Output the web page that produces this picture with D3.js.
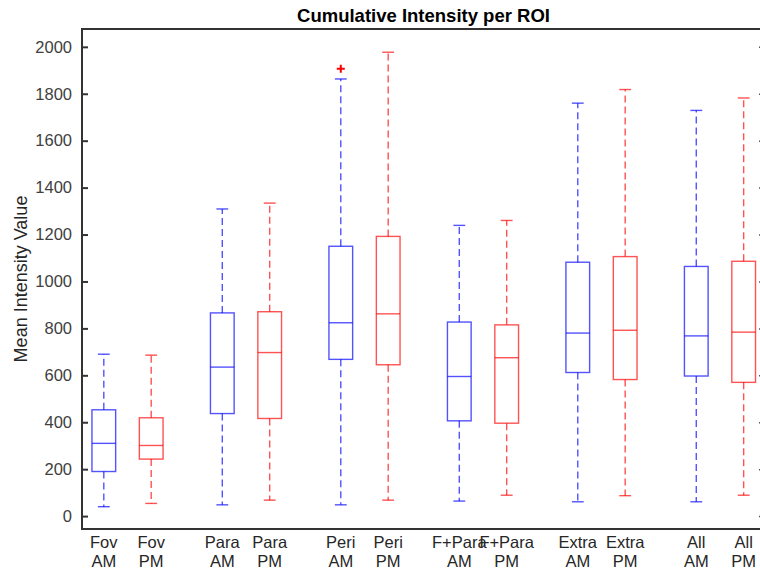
<!DOCTYPE html>
<html><head><meta charset="utf-8">
<script src="https://cdn.jsdelivr.net/npm/d3@7"></script>
<style>body{margin:0;background:#fff;}svg{display:block;font-family:"Liberation Sans",Arial,sans-serif;}</style>
</head><body><svg id="c" width="760" height="570"></svg>
<script>
const categories = ["Fov","Fov","Para","Para","Peri","Peri","F+Para","F+Para","Extra","Extra","All","All"];
const sessions = ["AM","PM","AM","PM","AM","PM","AM","PM","AM","PM","AM","PM"];
const positions = [1,2,3.5,4.5,6,7,8.5,9.5,11,12,13.5,14.5];
const whiskerLow = [40,54,48,68,48,68,64,89,61,87,61,89];
const q1 = [190,243,437,416,668,645,406,396,612,582,597,570];
const median = [310,301,635,697,824,862,595,675,780,792,768,784];
const q3 = [453,419,866,871,1150,1192,827,815,1082,1106,1064,1086];
const whiskerHigh = [690,686,1309,1334,1863,1977,1239,1260,1760,1818,1729,1782];
const outliers = [[], [], [], [], [1907], [], [], [], [], [], [], []];
const yTicks = [0,200,400,600,800,1000,1200,1400,1600,1800,2000];

const svg = d3.select("#c");
const L = 82, R = 765, T = 29, B = 529;
const x = d3.scaleLinear().domain([0.54, 14.95]).range([L, R]);
const y = d3.scaleLinear().domain([-55, 2076]).range([B, T]);
const color = s => s === "AM" ? "#0000ff" : "#ff0000";

// axes
const yAxisL = d3.axisLeft(y).tickValues(yTicks).tickFormat(d3.format("d")).tickSizeInner(-6).tickSizeOuter(0).tickPadding(10);
const gL = svg.append("g").attr("transform", `translate(${L},0)`).call(yAxisL);
gL.select(".domain").remove();
gL.selectAll(".tick line").attr("stroke", "#333").attr("stroke-width", 2);
gL.selectAll(".tick text").attr("fill", "#404040").style("font-size", "16.5px").style("font-family", "'Liberation Sans',Arial,sans-serif");

const gR = svg.append("g").attr("transform", `translate(${R},0)`).call(d3.axisRight(y).tickValues(yTicks).tickSizeInner(-6).tickSizeOuter(0).tickFormat(""));
gR.select(".domain").remove();
gR.selectAll(".tick line").attr("stroke", "#555").attr("stroke-width", 1.5);

const xAxis = d3.axisBottom(x).tickValues(positions).tickSize(0).tickFormat("");
const gB = svg.append("g").attr("transform", `translate(0,${B})`).call(xAxis);
gB.select(".domain").remove();

// frame
svg.append("rect").attr("x", L).attr("y", T).attr("width", R - L).attr("height", B - T)
  .attr("fill", "none").attr("stroke", "#333").attr("stroke-width", 2);

// x labels
positions.forEach((p, i) => {
  const t = svg.append("text").attr("text-anchor", "middle").attr("fill", "#262626").style("font-size", "16.5px");
  t.append("tspan").attr("x", x(p)).attr("y", 548).text(categories[i]);
  t.append("tspan").attr("x", x(p)).attr("y", 567).text(sessions[i]);
});

// boxes
const bw = 0.5 * 47.4, cw = 0.25 * 47.4;
const g = svg.append("g");
positions.forEach((p, i) => {
  const cx = x(p), c = color(sessions[i]);
  const gg = g.append("g").attr("stroke", c).attr("fill", "none").attr("stroke-opacity", 0.68);
  gg.append("line").attr("x1", cx).attr("x2", cx).attr("y1", y(q3[i])).attr("y2", y(whiskerHigh[i]))
    .attr("stroke-dasharray", "7,4").attr("stroke-width", 1.4);
  gg.append("line").attr("x1", cx).attr("x2", cx).attr("y1", y(q1[i])).attr("y2", y(whiskerLow[i]))
    .attr("stroke-dasharray", "7,4").attr("stroke-width", 1.4);
  gg.append("line").attr("x1", cx - cw / 2).attr("x2", cx + cw / 2).attr("y1", y(whiskerHigh[i])).attr("y2", y(whiskerHigh[i])).attr("stroke-width", 1.4);
  gg.append("line").attr("x1", cx - cw / 2).attr("x2", cx + cw / 2).attr("y1", y(whiskerLow[i])).attr("y2", y(whiskerLow[i])).attr("stroke-width", 1.4);
  gg.append("rect").attr("x", cx - bw / 2).attr("width", bw).attr("y", y(q3[i])).attr("height", y(q1[i]) - y(q3[i])).attr("stroke-width", 1.4);
  gg.append("line").attr("x1", cx - bw / 2).attr("x2", cx + bw / 2).attr("y1", y(median[i])).attr("y2", y(median[i])).attr("stroke-width", 1.4);
  outliers[i].forEach(v => {
    g.append("path").attr("d", `M${cx - 4},${y(v)}h8M${cx},${y(v) - 4}v8`).attr("stroke", "#ff0000").attr("stroke-width", 2);
  });
});

// title
svg.append("text").attr("x", (L + R) / 2).attr("y", 22).attr("text-anchor", "middle")
  .style("font-size", "18.5px").style("font-weight", "bold").attr("fill", "#000").text("Cumulative Intensity per ROI");
// y label
svg.append("text").attr("transform", `translate(27,${(T + B) / 2}) rotate(-90)`).attr("text-anchor", "middle")
  .style("font-size", "18px").attr("fill", "#262626").text("Mean Intensity Value");
</script></body></html>
